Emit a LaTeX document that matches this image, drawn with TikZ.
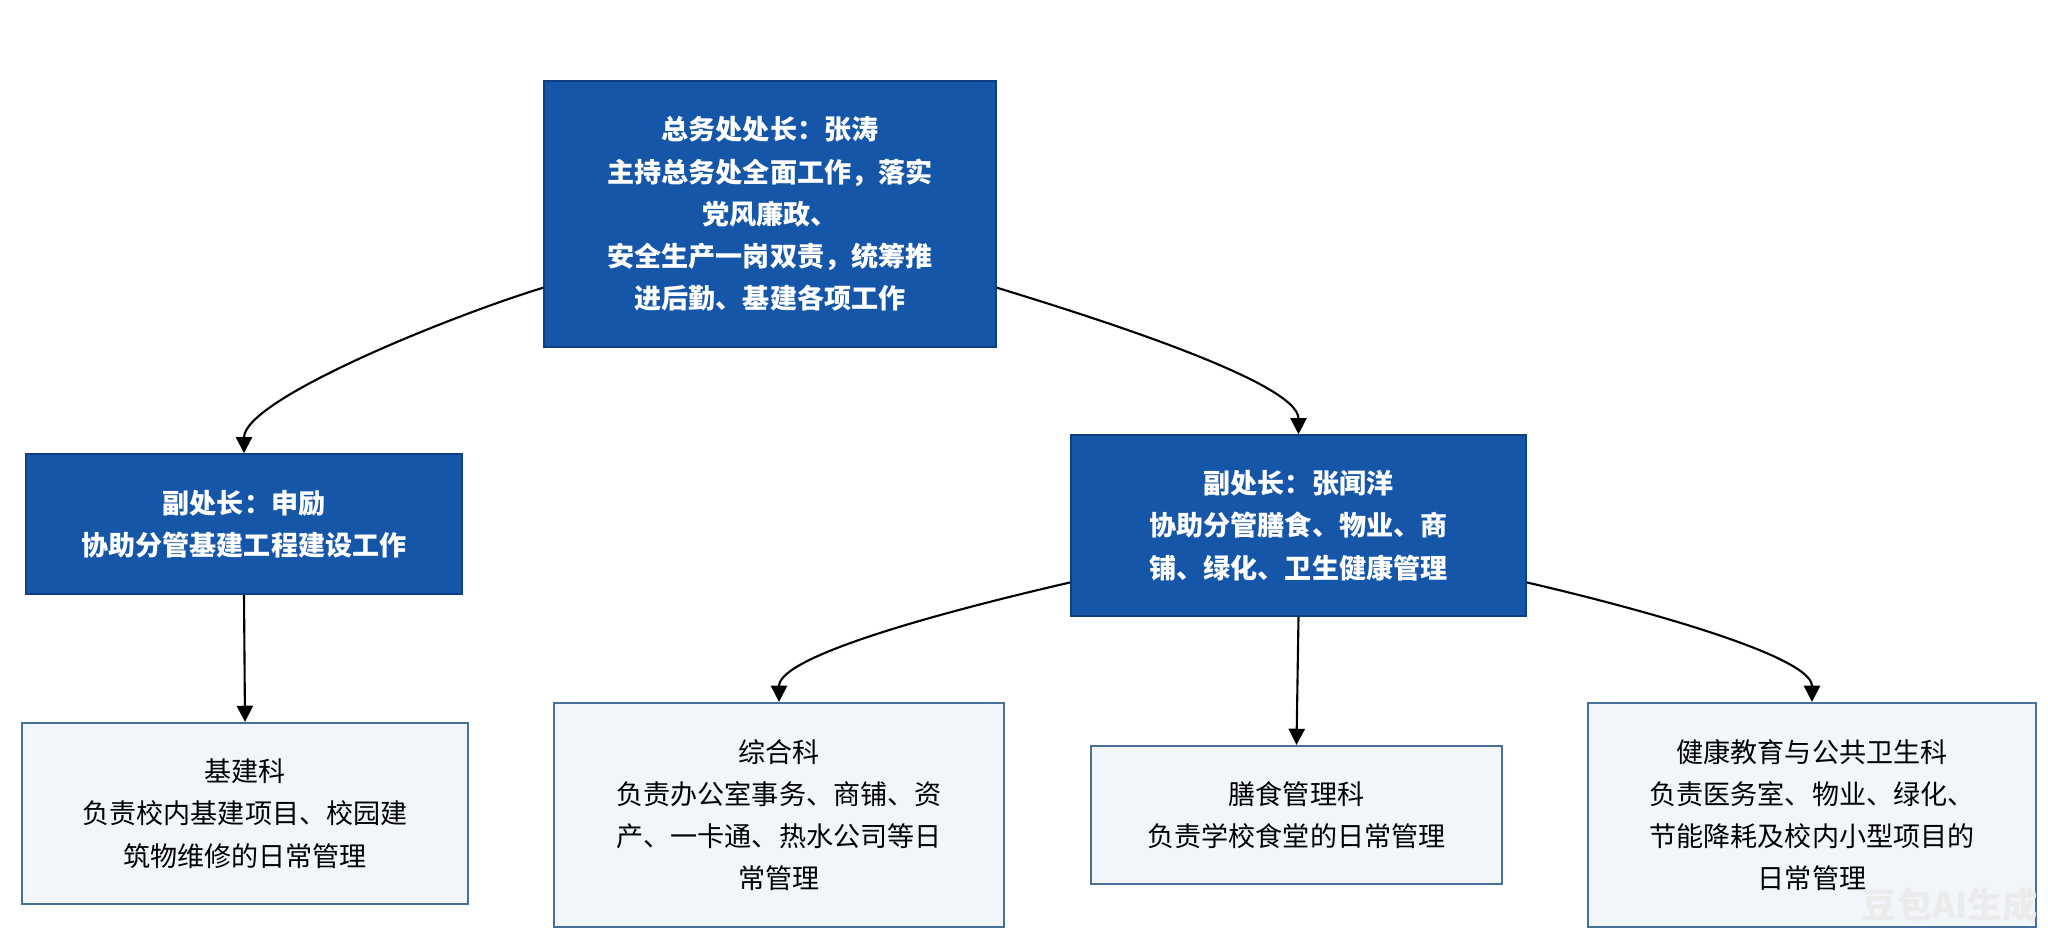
\documentclass[tikz,border=0pt]{standalone}
\usepackage{fontspec}
\setmainfont{Noto Sans CJK SC}
\usepackage{tikz}
\usetikzlibrary{arrows.meta}
\definecolor{headblue}{HTML}{1656A9}
\definecolor{headedge}{HTML}{0E3F85}
\definecolor{deptfill}{HTML}{F2F6FB}
\definecolor{deptedge}{HTML}{46709A}
\tikzset{
  headbox/.style={draw=headedge, line width=0.4pt, fill=headblue, text=white, align=center,
    font=\bfseries\fontsize{7.7}{12}\selectfont, inner sep=0pt},
  deptbox/.style={draw=deptedge, line width=0.6pt, fill=deptfill, text=black, align=center,
    font=\fontsize{7.7}{12}\selectfont, inner sep=0pt},
  link/.style={draw=black, line width=0.6pt, -{Triangle[width=4.6pt,length=4.6pt]}},
  elbow/.style={out looseness=0.75, in looseness=0.4}
}
\begin{document}
\begin{tikzpicture}[x=0.01cm, y=-0.01cm]
            \useasboundingbox (0,0) rectangle (2048,945);

            \node[headbox, minimum width=4.52cm, minimum height=2.66cm] (chief) at (770,214)
              {总务处处长：张涛\\主持总务处全面工作，落实\\党风廉政、\\安全生产一岗双责，统筹推\\进后勤、基建各项工作};

            \node[headbox, minimum width=4.36cm, minimum height=1.40cm] (shen) at (244,524)
              {副处长：申励\\协助分管基建工程建设工作};
            \node[headbox, minimum width=4.55cm, minimum height=1.81cm] (zhang) at (1298.5,525.5)
              {副处长：张闻洋\\协助分管膳食、物业、商\\铺、绿化、卫生健康管理};

            \node[deptbox, minimum width=4.46cm, minimum height=1.81cm] (jijian) at (245,813.5)
              {基建科\\负责校内基建项目、校园建\\筑物维修的日常管理};
            \node[deptbox, minimum width=4.50cm, minimum height=2.24cm] (zonghe) at (779,815)
              {综合科\\负责办公室事务、商铺、资\\产、一卡通、热水公司等日\\常管理};
            \node[deptbox, minimum width=4.11cm, minimum height=1.38cm] (shanshi) at (1296.5,815)
              {膳食管理科\\负责学校食堂的日常管理};
            \node[deptbox, minimum width=4.48cm, minimum height=2.24cm] (jiankang) at (1812,815)
              {健康教育与公共卫生科\\负责医务室、物业、绿化、\\节能降耗及校内小型项目的\\日常管理};

            \node[text=black!8, font=\bfseries\fontsize{10}{12}\selectfont] (mark) at (1950,905) {豆包AI生成};

            \draw[link] (chief.198.6) to[out=197, in=90, elbow] (shen.north);
            \draw[link] (chief.-18.6) to[out=-17, in=90, elbow] (zhang.north);
            \draw[link] (shen.south) -- (jijian.north);
            \draw[link] (zhang.194.4) to[out=193, in=90, elbow] (zonghe.north);
            \draw[link] (zhang.south) -- (shanshi.north);
            \draw[link] (zhang.-14.3) to[out=-13, in=90, elbow] (jiankang.north);
        \end{tikzpicture}
\end{document}
